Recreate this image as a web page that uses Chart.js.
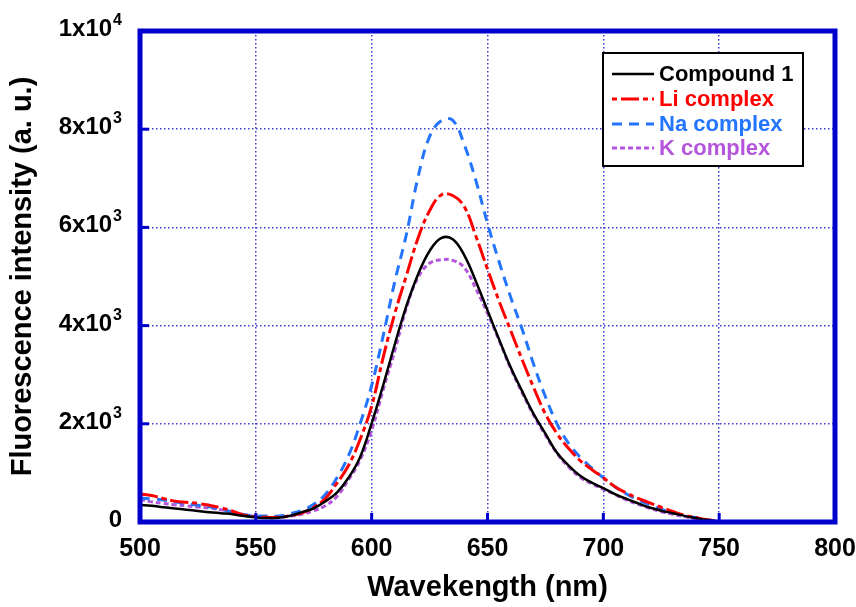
<!DOCTYPE html>
<html>
<head>
<meta charset="utf-8">
<script src="https://cdn.jsdelivr.net/npm/chart.js@4.4.1/dist/chart.umd.min.js"></script>
<style>
  body { margin: 0; background: #fff; }
</style>
</head>
<body>
<canvas id="spectra" width="856" height="607"></canvas>
<script>
// wavelengths in nm, intensities in a.u.
var wavelengths = [500, 505, 510, 515, 520, 525, 530, 535, 540, 545, 550, 555, 560, 565, 570, 575, 580, 585, 590, 595,
    600, 605, 610, 615, 620, 625, 630, 635, 640, 645, 650, 655, 660, 665, 670, 675, 680, 685, 690, 695,
    700, 705, 710, 715, 720, 725, 730, 735, 740, 745, 750];

var compound1 = [350, 330, 300, 275, 250, 225, 200, 180, 160, 120, 95, 80, 85, 130, 200, 280, 420, 600, 900, 1320,
    2010, 2790, 3620, 4400, 5040, 5520, 5780, 5760, 5430, 4900, 4310, 3720, 3150, 2660, 2190, 1800, 1410, 1150, 940, 800,
    690, 570, 470, 380, 295, 230, 180, 125, 80, 40, 10];

var liComplex = [570, 540, 480, 425, 400, 378, 340, 290, 220, 140, 108, 95, 95, 130, 185, 300, 480, 790, 1150, 1680,
    2360, 3360, 4250, 5020, 5780, 6340, 6660, 6650, 6420, 5820, 5150, 4500, 3900, 3300, 2730, 2200, 1800, 1500, 1250, 1070,
    900, 720, 590, 480, 390, 300, 215, 140, 90, 45, 15];

var naComplex = [490, 470, 448, 410, 375, 340, 310, 260, 200, 150, 125, 120, 120, 170, 240, 360, 560, 900, 1350, 2000,
    2780, 3800, 4900, 5860, 7020, 7850, 8170, 8180, 7680, 6950, 6080, 5300, 4580, 3920, 3200, 2550, 2000, 1600, 1320, 1100,
    900, 720, 570, 450, 350, 260, 190, 130, 85, 45, 15];

var kComplex = [460, 410, 380, 350, 330, 305, 285, 250, 200, 150, 110, 90, 95, 120, 160, 230, 330, 520, 860, 1260,
    1870, 2700, 3490, 4360, 4980, 5270, 5340, 5330, 5180, 4750, 4250, 3700, 3130, 2630, 2170, 1770, 1400, 1120, 910, 780,
    670, 560, 450, 360, 280, 210, 155, 110, 65, 35, 5];

var seriesNames = ["Compound 1", "Li complex", "Na complex", "K complex"];
var seriesColors = ["#000000", "#ff0000", "#2374ff", "#b455dc"];
var seriesDash = [[], [18, 4, 5, 4], [10, 7], [5, 3]];

// y tick labels: mantissa part and superscript exponent
var yTickBase = ["0", "2x10", "4x10", "6x10", "8x10", "1x10"];
var yTickExp = ["", "3", "3", "3", "3", "4"];

var axisBlue = "#0000cc";
var gridBlue = "#3b3bd6";
var fontFamily = '"Liberation Sans", Arial, Helvetica, sans-serif';

function toPoints(values) {
    var pts = [];
    for (var i = 0; i < wavelengths.length; i++) {
        pts.push({x: wavelengths[i], y: values[i]});
    }
    return pts;
}

var allValues = [compound1, liComplex, naComplex, kComplex];
var datasets = [];
for (var s = 0; s < allValues.length; s++) {
    datasets.push({
        label: seriesNames[s],
        data: toPoints(allValues[s]),
        borderColor: seriesColors[s],
        borderDash: seriesDash[s],
        borderWidth: s === 0 ? 2.5 : 3,
        pointRadius: 0,
        fill: false,
        tension: 0.4
    });
}

var decorPlugin = {
    id: "decor",
    afterDraw: function (chart) {
        var ctx = chart.ctx;
        var a = chart.chartArea;
        var xs = chart.scales.x;
        var ys = chart.scales.y;
        ctx.save();

        // inward tick marks
        ctx.fillStyle = axisBlue;
        xs.ticks.forEach(function (t) {
            if (t.value > xs.min && t.value < xs.max) {
                var px = xs.getPixelForValue(t.value);
                ctx.fillRect(px - 1.5, a.bottom - 9, 3, 9);
            }
        });
        ys.ticks.forEach(function (t) {
            if (t.value > ys.min && t.value < ys.max) {
                var py = ys.getPixelForValue(t.value);
                ctx.fillRect(a.left, py - 1.5, 9, 3);
            }
        });

        // frame
        ctx.strokeStyle = axisBlue;
        ctx.lineWidth = 5;
        ctx.setLineDash([]);
        ctx.strokeRect(a.left, a.top, a.right - a.left, a.bottom - a.top);

        // x tick labels
        ctx.fillStyle = "#000";
        ctx.font = "bold 25px " + fontFamily;
        ctx.textAlign = "center";
        ctx.textBaseline = "alphabetic";
        xs.ticks.forEach(function (t) {
            ctx.fillText(String(t.value), xs.getPixelForValue(t.value), 556);
        });

        // y tick labels with superscripts
        ys.ticks.forEach(function (t, i) {
            var py = ys.getPixelForValue(t.value);
            var right = 122;
            ctx.textAlign = "right";
            var expW = 0;
            if (yTickExp[i]) {
                ctx.font = "bold 16px " + fontFamily;
                expW = ctx.measureText(yTickExp[i]).width + 1;
                ctx.fillText(yTickExp[i], right, py - 6);
            }
            ctx.font = "bold 24px " + fontFamily;
            ctx.fillText(yTickBase[i], right - expW, py + 5);
        });

        // legend
        var lx = 603, ly = 53, lw = 200, lh = 113;
        ctx.fillStyle = "#fff";
        ctx.fillRect(lx, ly, lw, lh);
        ctx.strokeStyle = "#000";
        ctx.lineWidth = 2;
        ctx.strokeRect(lx, ly, lw, lh);
        var rowY = [74, 99, 124, 148];
        ctx.font = "bold 22px " + fontFamily;
        ctx.textAlign = "left";
        ctx.textBaseline = "middle";
        chart.data.datasets.forEach(function (ds, i) {
            ctx.strokeStyle = ds.borderColor;
            ctx.lineWidth = ds.borderWidth;
            ctx.setLineDash(ds.borderDash);
            ctx.lineDashOffset = i === 1 ? 22 : 0;
            ctx.beginPath();
            ctx.moveTo(612, rowY[i]);
            ctx.lineTo(654, rowY[i]);
            ctx.stroke();
            ctx.setLineDash([]);
            ctx.fillStyle = ds.borderColor;
            ctx.fillText(ds.label, 659, rowY[i] + 1);
        });

        ctx.restore();
    }
};

var chart = new Chart(document.getElementById("spectra"), {
    type: "line",
    data: {datasets: datasets},
    options: {
        responsive: false,
        animation: false,
        layout: {padding: {top: 31, right: 21, left: 0, bottom: 0}},
        plugins: {legend: {display: false}, tooltip: {enabled: false}},
        scales: {
            x: {
                type: "linear",
                min: 500,
                max: 800,
                ticks: {stepSize: 50, display: false},
                grid: {color: gridBlue, lineWidth: 1.5, drawTicks: false},
                border: {display: false, dash: [1.5, 2.5]},
                title: {
                    display: true,
                    text: "Wavekength (nm)",
                    color: "#000",
                    font: {family: fontFamily, size: 29, weight: "bold"},
                    padding: 2
                },
                afterFit: function (scale) { scale.height = 85; }
            },
            y: {
                min: 0,
                max: 10000,
                ticks: {stepSize: 2000, display: false},
                grid: {color: gridBlue, lineWidth: 1.5, drawTicks: false},
                border: {display: false, dash: [1.5, 2.5]},
                title: {
                    display: true,
                    text: "Fluorescence intensity (a. u.)",
                    color: "#000",
                    font: {family: fontFamily, size: 29, weight: "bold"},
                    padding: 6
                },
                afterFit: function (scale) { scale.width = 140; }
            }
        }
    },
    plugins: [decorPlugin]
});
</script>
</body>
</html>
